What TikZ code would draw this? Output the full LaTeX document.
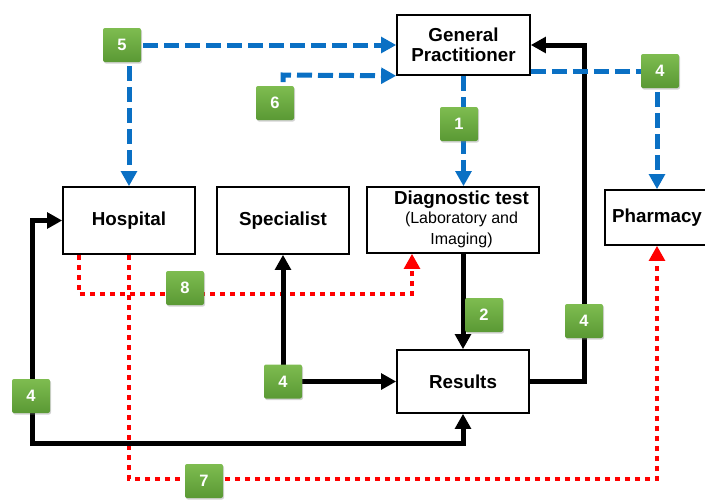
\documentclass[tikz,border=0pt]{standalone}
\usepackage{fontspec}
\setmainfont{Liberation Sans}
\usetikzlibrary{arrows.meta,shadows,calc}
\definecolor{bl}{HTML}{0A70C4}
\definecolor{rd}{HTML}{FF0000}
\definecolor{gtop}{HTML}{7EBC50}
\definecolor{gbot}{HTML}{5A9934}
\newcommand{\subfnt}{\mdseries\fontsize{16}{19}\selectfont}
\begin{document}
\begin{tikzpicture}[x=1pt,y=-1pt,
  box/.style={draw=black, line width=1.6pt, fill=white, inner sep=0pt, align=center,
    font=\bfseries\fontsize{18.8}{20.5}\selectfont},
  txt/.style={inner sep=0pt, align=center, font=\bfseries\fontsize{18.8}{20.5}\selectfont},
  badge/.style={minimum width=38pt, minimum height=34pt, inner sep=0pt, rounded corners=2pt,
    top color=gtop, bottom color=gbot, draw=none, text=white,
    font=\bfseries\fontsize{16.5}{16.5}\selectfont,
    drop shadow={opacity=0.35, shadow xshift=1pt, shadow yshift=-1.5pt}},
  tip/.style={-{Triangle[length=15pt,width=15.5pt]}},
  bdash/.style={draw=bl, line width=5pt, dash pattern=on 15pt off 6pt, tip},
  bdashn/.style={draw=bl, line width=5pt, dash pattern=on 15pt off 6pt},
  blk/.style={draw=black, line width=5pt, tip},
  rdot/.style={draw=rd, line width=4.5pt, dash pattern=on 5pt off 5pt, tip}
]
\useasboundingbox (0,0) rectangle (705,499);

% boxes
\node[box, minimum width=133pt, minimum height=60pt] (gp) at (463.5,45) {General\\Practitioner};
\node[box, minimum width=132pt, minimum height=67pt] (hosp) at (129,220.5) {Hospital};
\node[box, minimum width=132pt, minimum height=67pt] (spec) at (283,220.5) {Specialist};
\node[box, minimum width=172pt, minimum height=66pt] (diag) at (453,220) {};
\node[txt] (diagt) at (461.5,219) {Diagnostic test\\[-1pt]\subfnt (Laboratory and\\\subfnt Imaging)};
\node[box, minimum width=104pt, minimum height=55pt] (pharm) at (657,217.5) {Pharmacy};
\node[box, minimum width=132pt, minimum height=63pt] (res) at (463,381.5) {Results};

% badge positions
\coordinate (p5) at (122,45);
\coordinate (p6) at (275,103);
\coordinate (p1) at (459,124);
\coordinate (p4r) at (660,71);
\coordinate (p8) at (185,288);
\coordinate (p2) at (484,315);
\coordinate (p4m) at (584,321);
\coordinate (p4c) at (283,381.5);
\coordinate (p4l) at (31,396);
\coordinate (p7) at (204,481);

% helper coordinates
\coordinate (r8) at (79,294);
\coordinate (r8b) at (412,294);
\coordinate (r7) at (129,479);
\coordinate (lb) at (32,443);
\coordinate (c6) at (283,75);

% red dotted
\draw[rdot] (hosp.south -| r8) -- (r8) -- (r8b) -- (diag.south -| r8b);
\draw[rdot] (hosp.south) -- (r7) -| (pharm.south);

% black
\draw[blk] (res.east) -| (p4m) |- (gp.east);
\draw[blk] (diag.south -| res.north) -- (res.north);
\draw[blk] (p4c) -- (res.west);
\draw[blk] (p4c) -- (spec.south);
\draw[blk] (p4l -| lb) |- (hosp.west);
\draw[blk] (p4l -| lb) -- (lb) -| (res.south);

% blue dashed
\draw[bdash] (p5) -- (gp.west);
\draw[bdash] (hosp.north |- p5) -- (hosp.north);
\draw[bdash] (spec.north |- p6) -- (c6) -- (gp.south west);
\draw[bdash] (gp.south) -- (gp.south |- diag.north);
\draw[bdashn] (gp.east |- p4r) -- (p4r);
\draw[bdash] (pharm.north |- p4r) -- (pharm.north);

% badges
\node[badge] (b5) at (p5) {5};
\node[badge] (b6) at (p6) {6};
\node[badge] (b1) at (p1) {1};
\node[badge] (b4r) at (p4r) {4};
\node[badge] (b8) at (p8) {8};
\node[badge] (b2) at (p2) {2};
\node[badge] (b4m) at (p4m) {4};
\node[badge] (b4c) at (p4c) {4};
\node[badge] (b4l) at (p4l) {4};
\node[badge] (b7) at (p7) {7};
\end{tikzpicture}
\end{document}
